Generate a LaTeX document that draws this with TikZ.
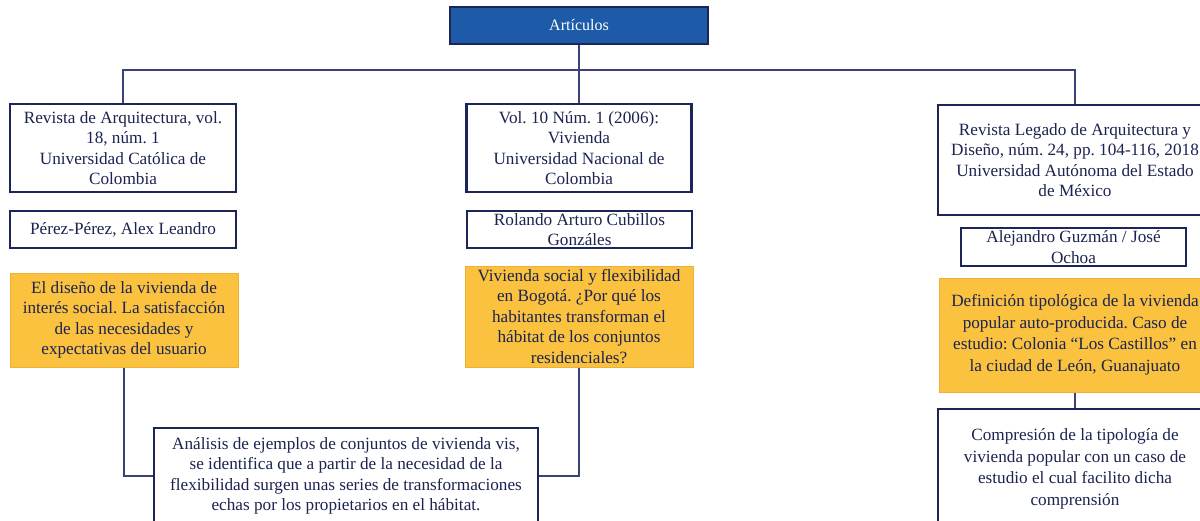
\documentclass[tikz,border=0pt]{standalone}
\usepackage{fontspec}
\setmainfont{Liberation Serif}
\frenchspacing
\definecolor{navyEdge}{HTML}{1B2557}
\definecolor{navyText}{HTML}{1B2350}
\definecolor{linkBlue}{HTML}{3A4178}
\definecolor{titleFill}{HTML}{1D5BA9}
\definecolor{noteFill}{HTML}{FBC23F}
\definecolor{noteEdge}{HTML}{EFB034}

\begin{document}
\begin{tikzpicture}
[x=1pt,y=-1pt,
  lineDecorate/.style={-,line width=1.4pt,draw=linkBlue},%
  boxDecorate/.style={shape=rectangle,draw=navyEdge,line width=2.3pt,fill=white,
    text=navyText,align=center,inner sep=0pt,font=\fontsize{17.2}{20.5}\selectfont},
  noteDecorate/.style={boxDecorate,draw=noteEdge,line width=1pt,fill=noteFill},
  titleDecorate/.style={boxDecorate,fill=titleFill,text=white,
    font=\fontsize{16}{18}\selectfont}]
\fill[white] (0,0) rectangle (1200,520);
\clip (0,0) rectangle (1200,520);
%% nodes or boxes
\node (art) at (579,25.5) [titleDecorate,minimum width=258,minimum height=37] {Artículos};
% left column
\node (revA) at (123,148) [boxDecorate,minimum width=226,minimum height=88]
  {Revista de Arquitectura, vol.\\18, núm. 1\\Universidad Católica de\\Colombia};
\node (autA) at (123,229.5) [boxDecorate,minimum width=226,minimum height=37]
  {Pérez-Pérez, Alex Leandro};
\node (titA) at (124,320) [noteDecorate,minimum width=228,minimum height=94]
  {El diseño de la vivienda de\\interés social. La satisfacción\\de las necesidades y\\expectativas del usuario};
% middle column
\node (revB) at (579,148) [boxDecorate,minimum width=225,minimum height=88]
  {Vol. 10 Núm. 1 (2006):\\Vivienda\\Universidad Nacional de\\Colombia};
\node (autB) at (579.5,229.5) [boxDecorate,minimum width=225,minimum height=37]
  {Rolando Arturo Cubillos\\Gonzáles};
\node (titB) at (579,316.5) [noteDecorate,minimum width=228,minimum height=101]
  {Vivienda social y flexibilidad\\en Bogotá. ¿Por qué los\\habitantes transforman el\\hábitat de los conjuntos\\residenciales?};
\node (resAB) at (346,476) [boxDecorate,minimum width=384,minimum height=96]
  {Análisis de ejemplos de conjuntos de vivienda vis,\\se identifica que a partir de la necesidad de la\\flexibilidad surgen unas series de transformaciones\\echas por los propietarios en el hábitat.};
% right column
\node (revC) at (1075,160) [boxDecorate,minimum width=274,minimum height=110]
  {Revista Legado de Arquitectura y\\Diseño, núm. 24, pp. 104-116, 2018\\Universidad Autónoma del Estado\\de México};
\node (autC) at (1073.5,247) [boxDecorate,minimum width=225,minimum height=38]
  {Alejandro Guzmán / José\\Ochoa};
\node (titC) at (1075,335) [noteDecorate,minimum width=272,minimum height=114,
  font=\fontsize{17.2}{21.5}\selectfont]
  {Definición tipológica de la vivienda\\popular auto-producida. Caso de\\estudio: Colonia “Los Castillos” en\\la ciudad de León, Guanajuato};
\node (resC) at (1075,469) [boxDecorate,minimum width=274,minimum height=120,
  font=\fontsize{17.2}{21.5}\selectfont]
  {Compresión de la tipología de\\vivienda popular con un caso de\\estudio el cual facilito dicha\\comprensión};
%% edges or lines
\coordinate (hub) at (579,70);
\draw[lineDecorate] (art.south) -- (hub) -- (revB.north);
\draw[lineDecorate] (revA.north) |- (hub) -| (revC.north);
\foreach \startnode/\endnode in {titA/resAB.west, titB/resAB.east}
{
  \draw[lineDecorate] (\startnode.south) |- (\endnode);
}
\draw[lineDecorate] (titC.south) -- (resC.north);
\end{tikzpicture}
\end{document}
